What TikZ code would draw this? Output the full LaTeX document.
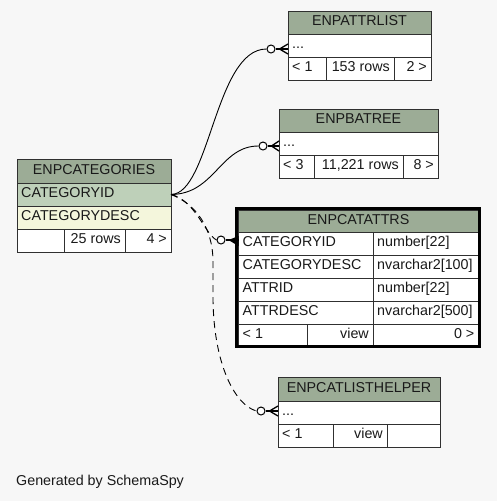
\documentclass[tikz,border=0pt]{standalone}
\usepackage{fontspec}
\setmainfont{Liberation Sans}
\definecolor{bgc}{HTML}{F7F7F7}
\definecolor{hdr}{HTML}{9CAC96}
\definecolor{keyc}{HTML}{BED0B9}
\definecolor{descc}{HTML}{F4F6DC}
\definecolor{bord}{HTML}{303030}
\tikzset{
  cellbox/.style={draw=bord,line width=1pt,anchor=north west,inner sep=0pt,outer sep=0pt},
  txt/.style={inner sep=0pt,font=\fontsize{14.3}{16}\selectfont,text height=10pt,text depth=4pt,text=black!90},
  ring/.style={circle,draw=black,fill=white,line width=1pt,minimum size=8pt,inner sep=0pt},
  rel/.style={draw=black,line width=0.9pt},
  reldash/.style={rel,dash pattern=on 7pt off 5pt},
  crow/.style={draw=black,line width=1.3pt},
}
\newcommand\tc[6]{\node[cellbox,fill=#6,minimum width=#4pt,minimum height=#5pt] (#1) at (#2,#3) {};}
\newcommand\mkL[3]{\node[txt,anchor=west] (#1) at ([xshift=4pt]#2.west) {#3};}
\newcommand\mkR[3]{\node[txt,anchor=east] (#1) at ([xshift=-4pt]#2.east) {#3};}
\newcommand\mkM[3]{\node[txt] (#1) at (#2.center) {#3};}
\begin{document}
\begin{tikzpicture}[x=1pt,y=-1pt]
\fill[bgc] (0,0) rectangle (497,501);
\useasboundingbox (0,0) rectangle (497,501);

% ENPCATEGORIES
\tc{catH}{17}{159}{154}{24}{hdr}\mkM{catHt}{catH}{ENPCATEGORIES}
\tc{catR1}{17}{183}{154}{23}{keyc}\mkL{catR1t}{catR1}{CATEGORYID}
\tc{catR2}{17}{206}{154}{23}{descc}\mkL{catR2t}{catR2}{CATEGORYDESC}
\tc{catF1}{17}{229}{47}{23}{white}
\tc{catF2}{64}{229}{61}{23}{white}\mkR{catF2t}{catF2}{25 rows}
\tc{catF3}{125}{229}{46}{23}{white}\mkR{catF3t}{catF3}{4 >}

% ENPATTRLIST
\tc{attH}{288}{11}{143}{23}{hdr}\mkM{attHt}{attH}{ENPATTRLIST}
\tc{attR}{288}{34}{143}{23}{white}\mkL{attRt}{attR}{...}
\tc{attF1}{288}{57}{38}{23}{white}\mkL{attF1t}{attF1}{< 1}
\tc{attF2}{326}{57}{68}{23}{white}\mkR{attF2t}{attF2}{153 rows}
\tc{attF3}{394}{57}{37}{23}{white}\mkR{attF3t}{attF3}{2 >}

% ENPBATREE
\tc{batH}{279}{109}{159}{23}{hdr}\mkM{batHt}{batH}{ENPBATREE}
\tc{batR}{279}{132}{159}{23}{white}\mkL{batRt}{batR}{...}
\tc{batF1}{279}{155}{35}{23}{white}\mkL{batF1t}{batF1}{< 3}
\tc{batF2}{314}{155}{89}{23}{white}\mkR{batF2t}{batF2}{11,221 rows}
\tc{batF3}{403}{155}{35}{23}{white}\mkR{batF3t}{batF3}{8 >}

% ENPCATATTRS
\tc{caH}{238.5}{210}{240}{22}{hdr}\mkM{caHt}{caH}{ENPCATATTRS}
\tc{caA1}{238.5}{232}{134.5}{23}{white}\mkL{caA1t}{caA1}{CATEGORYID}
\tc{caB1}{373}{232}{105.5}{23}{white}\mkL{caB1t}{caB1}{number[22]}
\tc{caA2}{238.5}{255}{134.5}{23}{white}\mkL{caA2t}{caA2}{CATEGORYDESC}
\tc{caB2}{373}{255}{105.5}{23}{white}\mkL{caB2t}{caB2}{nvarchar2[100]}
\tc{caA3}{238.5}{278}{134.5}{23}{white}\mkL{caA3t}{caA3}{ATTRID}
\tc{caB3}{373}{278}{105.5}{23}{white}\mkL{caB3t}{caB3}{number[22]}
\tc{caA4}{238.5}{301}{134.5}{23}{white}\mkL{caA4t}{caA4}{ATTRDESC}
\tc{caB4}{373}{301}{105.5}{23}{white}\mkL{caB4t}{caB4}{nvarchar2[500]}
\tc{caF1}{238.5}{324}{68.5}{22}{white}\mkL{caF1t}{caF1}{< 1}
\tc{caF2}{307}{324}{66}{22}{white}\mkR{caF2t}{caF2}{view}
\tc{caF3}{373}{324}{105.5}{22}{white}\mkR{caF3t}{caF3}{0 >}
\draw[black,line width=3.5pt] (236.5,208.5) rectangle (479.5,346.5);

% ENPCATLISTHELPER
\tc{clhH}{278}{377}{162}{24}{hdr}\mkM{clhHt}{clhH}{ENPCATLISTHELPER}
\tc{clhR}{278}{401}{162}{23}{white}\mkL{clhRt}{clhR}{...}
\tc{clhF1}{278}{424}{55}{23}{white}\mkL{clhF1t}{clhF1}{< 1}
\tc{clhF2}{333}{424}{54}{23}{white}\mkR{clhF2t}{clhF2}{view}
\tc{clhF3}{387}{424}{53}{23}{white}

% circles
\node[ring] (c1) at (271,49) {};
\node[ring] (c2) at (263,146) {};
\node[ring] (c3) at (221,240) {};
\node[ring] (c4) at (261,411) {};

% relationships
\draw[rel] (catR1.east) .. controls (210,194) and (215,49) .. (c1.west);
\draw[rel] (catR1.east) .. controls (215,194) and (220,146) .. (c2.west);
\draw[reldash] (catR1.east) .. controls (195,200) and (205,234) .. (c3.west);
\draw[reldash] (catR1.east) .. controls (196,204) and (213,228) .. (213,262) -- (213,300) .. controls (214,365) and (235,405) .. (c4.west);

% crow's feet
\coordinate (k1) at (attR.west |- c1.center);
\coordinate (k2) at (batR.west |- c2.center);
\coordinate (k3) at (caA1.west |- c3.center);
\coordinate (k4) at (clhR.west |- c4.center);
\draw[crow] (c1.east) -- (k1);
\draw[crow] ([xshift=4pt]c1.east) -- ([yshift=5pt]k1);
\draw[crow] ([xshift=4pt]c1.east) -- ([yshift=-5pt]k1);
\draw[crow] (c2.east) -- (k2);
\draw[crow] ([xshift=4pt]c2.east) -- ([yshift=5pt]k2);
\draw[crow] ([xshift=4pt]c2.east) -- ([yshift=-5pt]k2);
\draw[crow] (c4.east) -- (k4);
\draw[crow] ([xshift=4pt]c4.east) -- ([yshift=5pt]k4);
\draw[crow] ([xshift=4pt]c4.east) -- ([yshift=-5pt]k4);
\draw[crow] (c3.east) -- (k3);
\fill[black] ([xshift=3pt]c3.east) -- ([yshift=4pt]k3) -- ([yshift=-6pt]k3) -- cycle;

\node[txt,anchor=west] (gen) at (16,482) {Generated by SchemaSpy};
\end{tikzpicture}
\end{document}
